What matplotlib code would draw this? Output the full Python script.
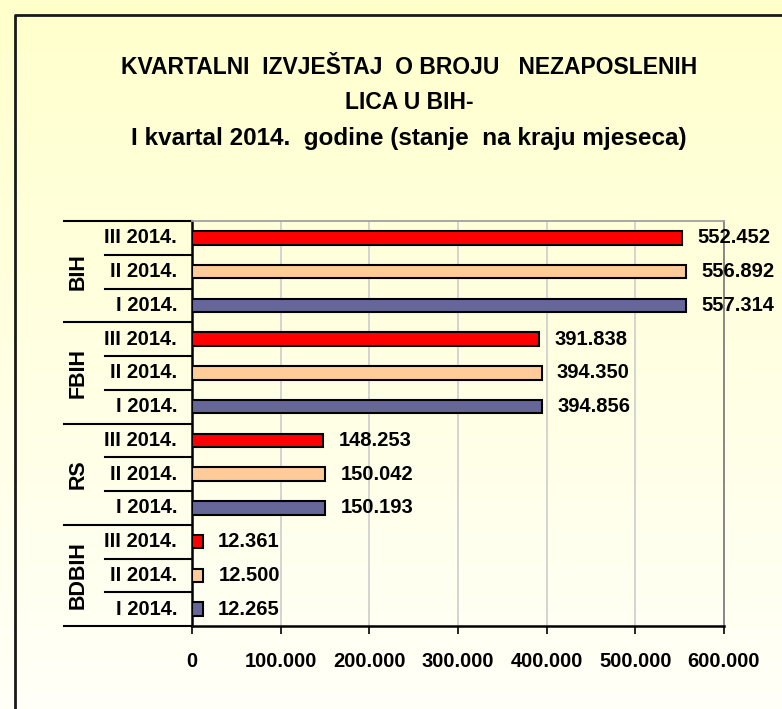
import numpy as np
import matplotlib
matplotlib.use("Agg")
import matplotlib.pyplot as plt
import matplotlib.transforms as mtransforms
from matplotlib.colors import LinearSegmentedColormap

plt.rcParams['font.family'] = ['Liberation Sans', 'DejaVu Sans']

# podaci (odozgo prema dolje)
groups = ['BIH', 'FBIH', 'RS', 'BDBIH']
periods = ['III 2014.', 'II 2014.', 'I 2014.']
values = {
    'BIH':   [552452, 556892, 557314],
    'FBIH':  [391838, 394350, 394856],
    'RS':    [148253, 150042, 150193],
    'BDBIH': [12361, 12500, 12265],
}
period_colors = ['#FF0000', '#FFCC99', '#666699']
xticks = [0, 100000, 200000, 300000, 400000, 500000, 600000]
title_lines = ['KVARTALNI  IZVJEŠTAJ  O BROJU   NEZAPOSLENIH',
               'LICA U BIH-',
               'I kvartal 2014.  godine (stanje  na kraju mjeseca)']
title_sizes = [16.5, 16.5, 17.5]

W, H = 782, 709
fig = plt.figure(figsize=(W / 100, H / 100), dpi=100)

# pozadina sa gradijentom
bg = fig.add_axes([0, 0, 1, 1], zorder=-10)
cmap = LinearSegmentedColormap.from_list('bg', ['#FFFFF8', '#FFFFCC'])
grad = np.linspace(0, 1, 256).reshape(-1, 1)
bg.imshow(grad, aspect='auto', cmap=cmap, origin='lower', extent=[0, W, 0, H])
bg.set_xlim(0, W)
bg.set_ylim(0, H)
bg.plot([15, 15, W + 5], [-5, H - 15, H - 15], color='#1a1a1a', lw=2)
bg.axis('off')

for i, line in enumerate(title_lines):
    fig.text(409 / W, 1 - (67 + i * 35.5) / H, line, ha='center', va='center',
             fontsize=title_sizes[i], fontweight='bold')

ax = fig.add_axes([192 / W, 1 - 626 / H, 532 / W, 405 / H])
ax.set_facecolor('none')
trans = mtransforms.blended_transform_factory(ax.transAxes, ax.transData)

n = len(groups) * len(periods)
k = 0
for g in groups:
    for j, p in enumerate(periods):
        y = n - 1 - k
        v = values[g][j]
        ax.barh(y, v, height=0.4, color=period_colors[j], edgecolor='black',
                linewidth=1.5, zorder=3)
        ax.annotate(f'{v / 1000:.3f}', (v, y), xytext=(11, 0),
                    textcoords='offset points', ha='left', va='center',
                    fontsize=14.5, fontweight='bold')
        ax.text(-15 / 532, y, p, transform=trans,
                ha='right', va='center', fontsize=14.5, fontweight='bold')
        k += 1

for gi, g in enumerate(groups):
    top = n - 0.5 - gi * 3
    ax.text(-114 / 532, top - 1.5, g, transform=trans, rotation=90,
            ha='center', va='center', fontsize=15.5, fontweight='bold')
    ax.plot([-128 / 532, 0], [top, top], transform=trans, color='black',
            lw=1.5, clip_on=False)
    for s in (1, 2):
        ax.plot([-87 / 532, 0], [top - s, top - s], transform=trans,
                color='black', lw=1.5, clip_on=False)
ax.plot([-128 / 532, 0], [-0.5, -0.5], transform=trans, color='black',
        lw=1.5, clip_on=False)

ax.set_xlim(0, 600000)
ax.set_ylim(-0.5, n - 0.5)
ax.set_yticks([])
ax.set_xticks(xticks)
ax.set_xticklabels(['0'] + [f'{t // 1000}.000' for t in xticks[1:]],
                   fontsize=14.5, fontweight='bold')
ax.tick_params(axis='x', direction='out', length=6, width=1.2, pad=13)
ax.grid(axis='x', color='#D0D0D0', lw=1.3, zorder=0)
for s in ('left', 'bottom'):
    ax.spines[s].set_color('black')
    ax.spines[s].set_linewidth(1.8)
ax.spines['top'].set_color('#A0A0A0')
ax.spines['top'].set_linewidth(1.3)
ax.spines['right'].set_color('#808080')
ax.spines['right'].set_linewidth(1.3)

fig.savefig('out.png', dpi=100)
